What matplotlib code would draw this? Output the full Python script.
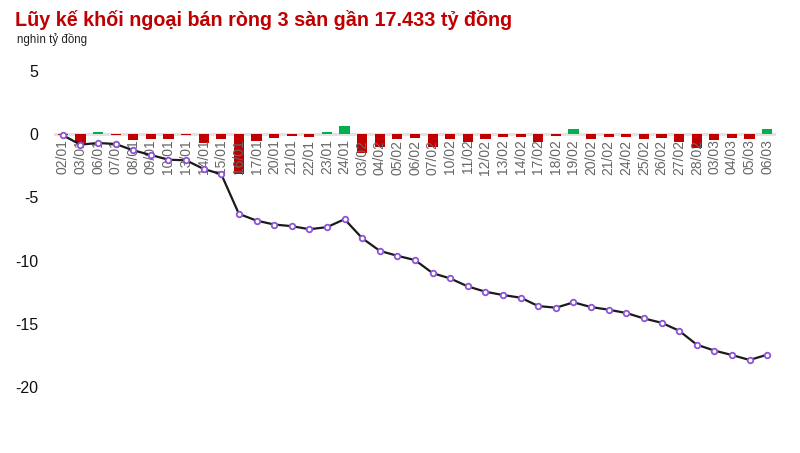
import matplotlib
matplotlib.use("Agg")
import matplotlib.pyplot as plt
import numpy as np

dates = ["02/01", "03/01", "06/01", "07/01", "08/01", "09/01", "10/01", "13/01", "14/01", "15/01",
         "16/01", "17/01", "20/01", "21/01", "22/01", "23/01", "24/01", "03/02", "04/02", "05/02",
         "06/02", "07/02", "10/02", "11/02", "12/02", "13/02", "14/02", "17/02", "18/02", "19/02",
         "20/02", "21/02", "24/02", "25/02", "26/02", "27/02", "28/02", "03/03", "04/03", "05/03",
         "06/03"]

daily = [-0.10, -0.74, 0.13, -0.08, -0.50, -0.37, -0.37, -0.05, -0.68, -0.42,
         -3.13, -0.53, -0.31, -0.13, -0.24, 0.16, 0.63, -1.47, -1.00, -0.39,
         -0.34, -1.03, -0.42, -0.63, -0.42, -0.26, -0.21, -0.66, -0.13, 0.42,
         -0.37, -0.21, -0.26, -0.43, -0.34, -0.63, -1.10, -0.47, -0.35, -0.39,
         0.39]

cumulative = [-0.10, -0.84, -0.71, -0.79, -1.29, -1.66, -2.03, -2.08, -2.76, -3.18,
              -6.31, -6.84, -7.15, -7.28, -7.52, -7.36, -6.73, -8.23, -9.23, -9.62,
              -9.96, -10.99, -11.41, -12.04, -12.46, -12.72, -12.93, -13.59, -13.72, -13.30,
              -13.67, -13.88, -14.14, -14.57, -14.91, -15.54, -16.64, -17.11, -17.46, -17.85,
              -17.433]

yticks = [5, 0, -5, -10, -15, -20]

plt.rcParams['font.family'] = ['Liberation Sans', 'DejaVu Sans']

W, H = 800, 453
fig = plt.figure(figsize=(W / 100, H / 100), dpi=100)

# axes placement in pixels
ymin, ymax = -22, 7
zero_px = 134
ppu = 12.66
top_px = zero_px - ymax * ppu
bot_px = zero_px - ymin * ppu
left_px, right_px = 54, 776
ax = fig.add_axes([left_px / W, 1 - bot_px / H, (right_px - left_px) / W, (bot_px - top_px) / H])

x = np.arange(len(dates))
colors = ['#00B050' if v > 0 else '#C00000' for v in daily]
ax.axhline(0, color='#e3e3e3', lw=2.2, zorder=0)
ax.bar(x, daily, width=0.58, color=colors, zorder=1)
ax.plot(x, cumulative, color='#1a1a1a', lw=1.6, zorder=3,
        marker='o', markersize=4, markerfacecolor='white',
        markeredgecolor='#8A55D6', markeredgewidth=1.3)

ax.set_xlim(-0.5, len(dates) - 0.5)
ax.set_ylim(ymin, ymax)
ax.set_yticks(yticks)
ax.set_yticklabels([str(t) for t in yticks], fontsize=11.5, color='#111111')
ax.tick_params(axis='y', length=0, pad=11)

ax.spines['bottom'].set_position(('data', 0))
for s in ax.spines.values():
    s.set_visible(False)
ax.set_xticks(x)
ax.set_xticklabels(dates, rotation=90, fontsize=10, color='#666666', va='top')
ax.tick_params(axis='x', length=0, pad=4)

fig.text(15 / W, 1 - 20 / H, "Lũy kế khối ngoại bán ròng 3 sàn gần 17.433 tỷ đồng",
         fontsize=14.2, fontweight='bold', color='#C00000', va='center', ha='left')
fig.text(17 / W, 1 - 40 / H, "nghìn tỷ đồng", fontsize=8.3, color='#222222',
         va='center', ha='left')

fig.savefig("out.png", dpi=100)
